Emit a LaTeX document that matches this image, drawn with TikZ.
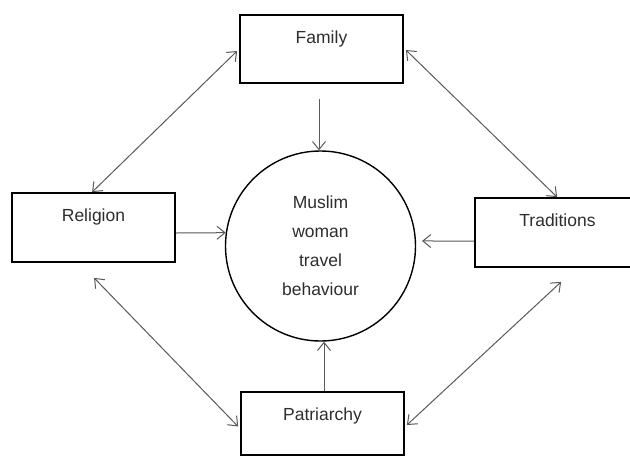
\documentclass[tikz,border=0pt]{standalone}
\usepackage{fontspec}
\setmainfont{Liberation Sans}
\usetikzlibrary{arrows.meta,calc}
\definecolor{conn}{HTML}{5A5A5A}
\definecolor{txt}{HTML}{2E2E2E}
\begin{document}
\begin{tikzpicture}[x=1pt,y=-1pt,
  boxnode/.style={draw=black,line width=1.8pt,rectangle,inner sep=0pt},
  lbl/.style={anchor=base,inner sep=0pt,text=txt,font=\fontsize{17.5}{20}\selectfont},
  conline/.style={draw=conn,line width=1pt},
  tip/.style={-{Straight Barb[length=8pt,width=13pt,line width=1pt]}},
  dtip/.style={{Straight Barb[length=8pt,width=13pt,line width=1pt]}-{Straight Barb[length=8pt,width=13pt,line width=1pt]}}]
\useasboundingbox (0,0) rectangle (630,456);
\clip (0,0) rectangle (630,456);
\fill[white] (0,0) rectangle (630,456);
% boxes
\node[boxnode,minimum width=163pt,minimum height=68pt] (family) at (321.5,49) {};
\node[boxnode,minimum width=163pt,minimum height=69pt] (religion) at (93.5,227.5) {};
\node[boxnode,minimum width=165pt,minimum height=69pt] (traditions) at (557.5,232.5) {};
\node[boxnode,minimum width=163pt,minimum height=63pt] (patriarchy) at (322.5,423.5) {};
% labels
\node[lbl] (tfamily) at ([yshift=-29pt]family.north) {Family};
\node[lbl] (treligion) at ([yshift=-29pt]religion.north) {Religion};
\node[lbl] (ttraditions) at ([yshift=-29pt]traditions.north) {Traditions};
\node[lbl] (tpatriarchy) at ([yshift=-29pt]patriarchy.north) {Patriarchy};
% circle
\node[draw=black,line width=1.4pt,circle,minimum size=190pt,inner sep=0pt,
  align=center,text=txt,font=\fontsize{17.5}{29}\selectfont] (c) at (320.5,246)
  {Muslim\\woman\\travel\\behaviour};
% arrows to circle
\draw[conline,tip] ([xshift=-2.5pt,yshift=-15pt]family.south) -- ([xshift=-2.5pt]family.south |- c.north);
\draw[conline,tip] ([yshift=-5.5pt]religion.east) -- (c.172);
\draw[conline,tip] ([yshift=-8.5pt]traditions.west) -- ([xshift=6pt]c.3);
\draw[conline,tip] ([xshift=1.5pt]patriarchy.north) -- ([xshift=1.5pt]patriarchy.north |- c.south);
% double arrows
\draw[conline,dtip] ([xshift=-2pt,yshift=-2pt]family.west) -- ([xshift=81pt]religion.north west);
\draw[conline,dtip] ([xshift=2pt,yshift=-1pt]family.east) -- ([xshift=83pt]traditions.north west);
\draw[conline,dtip] ([xshift=83pt,yshift=-15pt]religion.south west) -- ([xshift=-2pt,yshift=-3pt]patriarchy.west);
\draw[conline,dtip] ([xshift=87pt,yshift=-14pt]traditions.south west) -- ([xshift=2pt,yshift=-1.5pt]patriarchy.east);
\end{tikzpicture}
\end{document}
